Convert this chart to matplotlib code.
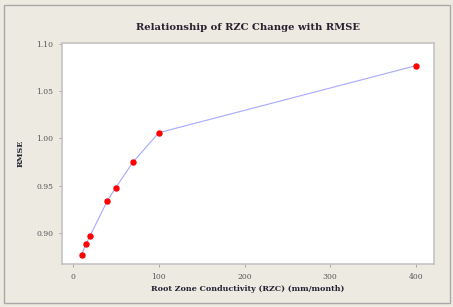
import matplotlib
matplotlib.use("Agg")
import matplotlib.pyplot as plt
from matplotlib.patches import Rectangle

# RZC (mm/month) vs RMSE
rzc = [10, 15, 20, 40, 50, 70, 100, 400]
rmse = [0.877, 0.888, 0.897, 0.934, 0.948, 0.975, 1.006, 1.077]
xticks = [0, 100, 200, 300, 400]
yticks = [0.90, 0.95, 1.00, 1.05, 1.10]

BG = "#EDEAE2"
FONT = ["DejaVu Serif"]

fig = plt.figure(figsize=(4.53, 3.07), dpi=100, facecolor=BG)
fig.patches.append(Rectangle((0.008, 0.014), 0.986, 0.97, transform=fig.transFigure,
                             fill=False, edgecolor="#A8A8A8", lw=1.0))
ax = fig.add_axes([0.137, 0.140, 0.821, 0.720])
ax.set_facecolor("white")

ax.plot(rzc, rmse, color="#A8A8FF", lw=0.8, zorder=2)
ax.plot(rzc, rmse, ls="none", marker="o", ms=3.6, color="#FF0000", zorder=3)

ax.set_xlim(-12.8, 421)
ax.set_ylim(0.867, 1.101)
ax.set_xticks(xticks)
ax.set_xticklabels([str(t) for t in xticks])
ax.set_yticks(yticks)
ax.set_yticklabels([f"{t:.2f}" for t in yticks])

for s in ax.spines.values():
    s.set_color("#C4C4C4")
    s.set_linewidth(1.2)

ax.tick_params(labelsize=5.5, labelcolor="#555555", colors="#999999", length=2.5, width=0.6,
               pad=4)
for lbl in ax.get_xticklabels() + ax.get_yticklabels():
    lbl.set_family(FONT)

ax.set_title("Relationship of RZC Change with RMSE", fontsize=7.2, fontweight="bold",
             family=FONT, color="#2A2030", pad=9)
ax.set_xlabel("Root Zone Conductivity (RZC) (mm/month)", fontsize=5.8, fontweight="bold",
              family=FONT, color="#222233", labelpad=3)
ax.set_ylabel("RMSE", fontsize=5.8, fontweight="bold", family=FONT, color="#222233",
              labelpad=8)

fig.savefig("out.png", dpi=100, facecolor=BG)
